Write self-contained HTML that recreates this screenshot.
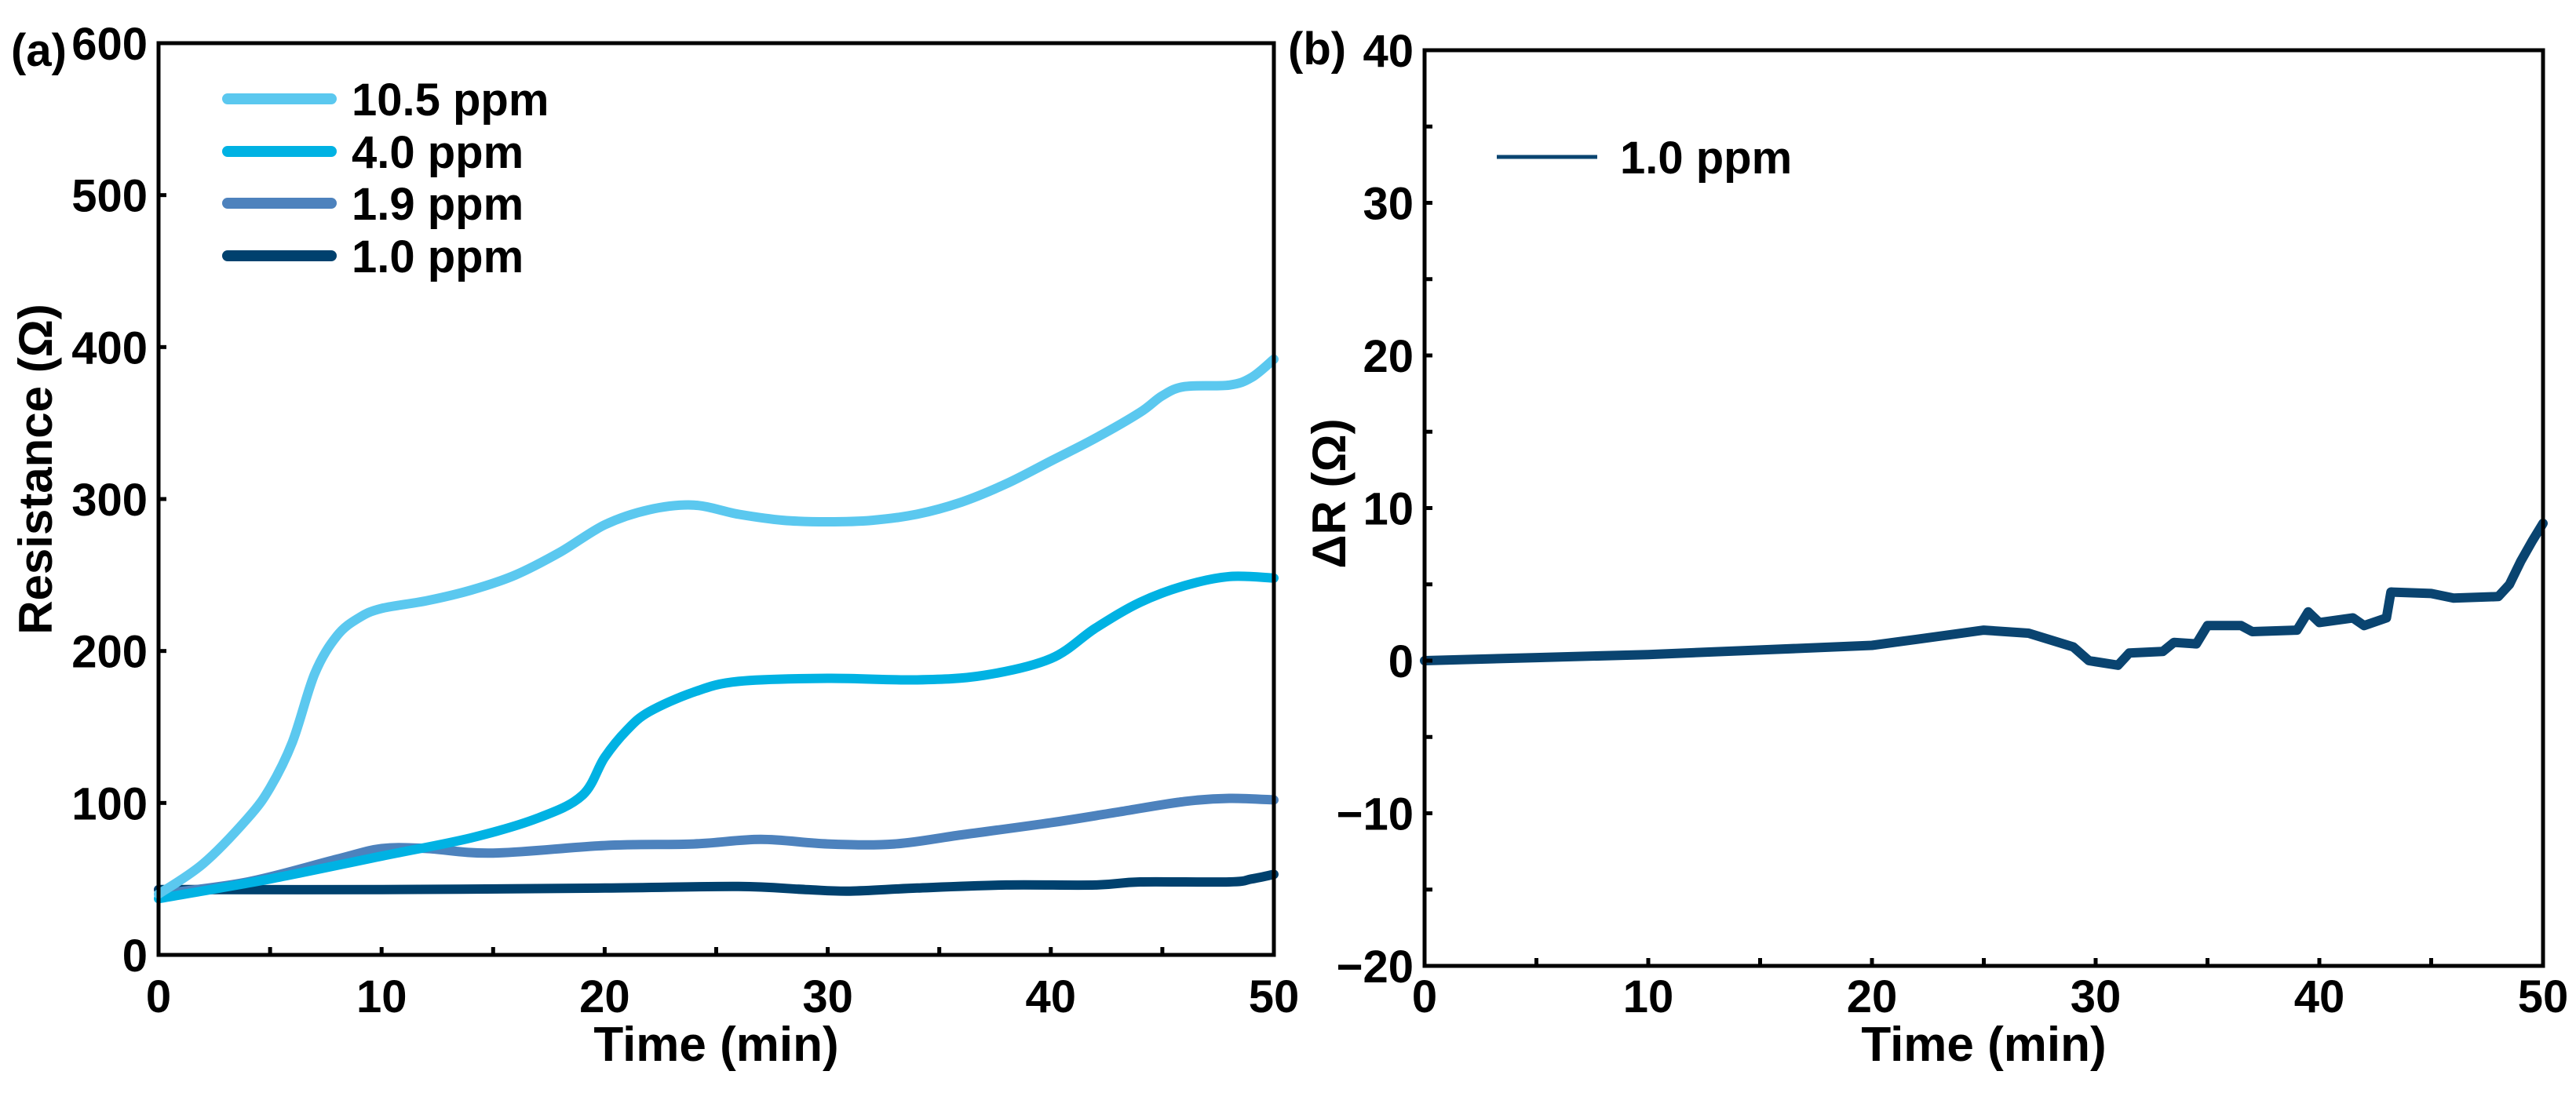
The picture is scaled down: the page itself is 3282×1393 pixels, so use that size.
<!DOCTYPE html>
<html><head><meta charset="utf-8">
<style>
html,body{margin:0;padding:0;background:#fff;}
svg{display:block;font-family:"Liberation Sans",Arial,sans-serif;font-weight:bold;}
</style></head>
<body>
<svg id="chart" width="3282" height="1393" viewBox="0 0 3282 1393" xmlns="http://www.w3.org/2000/svg">
<rect width="3282" height="1393" fill="#fff"/>
<g id="pa"></g>
<g id="pb"></g>
</svg>
<script>
// Panel (a) data
const timeA105 = [0,2,4,5,6,7,8,9,10,12,14,16,18,20,22,24,26,28,30,32,34,36,38,40,42,44,45,46,48,49,50];
const r105 = [40,60,90,110,140,185,210,222,228,233,240,250,265,283,293,296,290,286,285,286,290,298,310,325,340,357,368,374,375,380,392];
const timeA40 = [0,5,10,14,17,19,20,21,22,24,26,30,34,37,40,42,44,46,48,50];
const r40 = [37,50,65,77,90,105,130,148,160,173,180,182,181,184,195,215,232,243,249,248];
const timeA19 = [0,4,8,10,12,15,20,24,27,30,33,36,40,43,46,48,50];
const r19 = [40,48,63,70,70,67,72,73,76,73,73,79,87,94,101,103,102];
const timeA10 = [0,10,20,26,29,31,34,38,42,44,48,49,50];
const r10 = [43,43,44,45,43,42,44,46,46,48,48,50,53];
const yTicksA = [0,100,200,300,400,500,600];
const xTicks = [0,10,20,30,40,50];
const legendA = ["10.5 ppm","4.0 ppm","1.9 ppm","1.0 ppm"];
// Panel (b) data
const timeB = [0,5,10,15,20,22,25,27,29,29.7,31,31.5,33,33.5,34.5,35,36.5,37,39,39.5,40,41.5,42,43,43.2,45,46,48,48.5,49,49.5,50];
const dR = [0,0.2,0.4,0.7,1.0,1.4,2.0,1.8,0.9,0,-0.3,0.5,0.6,1.2,1.1,2.3,2.3,1.9,2.0,3.2,2.5,2.8,2.3,2.8,4.5,4.4,4.1,4.2,5,6.5,7.8,9];
const yTicksB = [-20,-10,0,10,20,30,40];

const NS="http://www.w3.org/2000/svg";
function mk(parent,tag,attrs,text){const e=document.createElementNS(NS,tag);for(const k in attrs)e.setAttribute(k,attrs[k]);if(text!==undefined)e.textContent=text;parent.appendChild(e);return e;}

function axes(g,L,R,T,B,xs,ys,yTicks,minorY,name){
  const fr=mk(g,'rect',{x:L,y:T,width:R-L,height:B-T,fill:'none',stroke:'#000','stroke-width':5});
  
  
  for(let t=0;t<=50;t+=5){
    const tk=mk(g,'line',{x1:xs(t),x2:xs(t),y1:B,y2:B-10,stroke:'#000','stroke-width':5});
    
    
  }
  xTicks.forEach(t=>{
    const l=mk(g,'text',{x:xs(t),y:1290,'font-size':58,'text-anchor':'middle'},String(t));
    
    
  });
  yTicks.forEach(v=>{
    const tk=mk(g,'line',{x1:L,x2:L+10,y1:ys(v),y2:ys(v),stroke:'#000','stroke-width':5});
    
    
    const l=mk(g,'text',{x:L-14,y:ys(v)+21,'font-size':58,'text-anchor':'end'},v<0?'\u2212'+(-v):String(v));
    
    
  });
  minorY.forEach(v=>{
    const tk=mk(g,'line',{x1:L,x2:L+10,y1:ys(v),y2:ys(v),stroke:'#000','stroke-width':5});
    
    
  });
  const xt=mk(g,'text',{x:(L+R)/2,y:1352,'font-size':62,'text-anchor':'middle'},'Time (min)');
  
  
}
function path(g,xsArr,ysArr,xs,ys,color,w,name,smooth){
  const P=xsArr.map((t,i)=>[xs(t),ys(ysArr[i])]);
  let d='M'+P[0][0].toFixed(1)+','+P[0][1].toFixed(1);
  for(let i=1;i<P.length;i++){
    if(smooth){
      const p0=P[Math.max(i-2,0)],p1=P[i-1],p2=P[i],p3=P[Math.min(i+1,P.length-1)];
      const c1=[p1[0]+(p2[0]-p0[0])/6,p1[1]+(p2[1]-p0[1])/6];
      const c2=[p2[0]-(p3[0]-p1[0])/6,p2[1]-(p3[1]-p1[1])/6];
      d+='C'+c1[0].toFixed(1)+','+c1[1].toFixed(1)+' '+c2[0].toFixed(1)+','+c2[1].toFixed(1)+' '+p2[0].toFixed(1)+','+p2[1].toFixed(1);
    } else d+='L'+P[i][0].toFixed(1)+','+P[i][1].toFixed(1);
  }
  const p=mk(g,'path',{d:d,fill:'none',stroke:color,'stroke-width':w,'stroke-linejoin':'round','stroke-linecap':'round'});
  
  
}

// Panel A
(function(){
  const g=document.getElementById('pa');
  const L=202,R=1623,T=55,B=1217;
  const xs=t=>L+(R-L)*t/50, ys=v=>B-(B-T)*v/600;
  const series=[[timeA10,r10,'#00416e','line-1-0-ppm'],[timeA19,r19,'#4d82bd','line-1-9-ppm'],[timeA40,r40,'#00b2e3','line-4-0-ppm'],[timeA105,r105,'#5bc8ef','line-10-5-ppm']];
  series.forEach(s=>path(g,s[0],s[1],xs,ys,s[2],12,s[3],true));
  axes(g,L,R,T,B,xs,ys,yTicksA,[],'panel-a');
  const yt=mk(g,'text',{x:0,y:0,'font-size':60,'text-anchor':'middle',transform:'translate(66,598) rotate(-90)'},'Resistance (\u03A9)');
  
  
  const lab=mk(g,'text',{x:14,y:84,'font-size':58},'(a)');
  
  
  const cols=['#5bc8ef','#00b2e3','#4d82bd','#00416e'];
  const ly=[126,193,259,326];
  legendA.forEach((txt,i)=>{
    const ln=mk(g,'line',{x1:290,x2:422,y1:ly[i],y2:ly[i],stroke:cols[i],'stroke-width':14,'stroke-linecap':'round'});
    
    
    const t=mk(g,'text',{x:448,y:ly[i]+21,'font-size':58},txt);
    
    
  });
})();

// Panel B
(function(){
  const g=document.getElementById('pb');
  const L=1815,R=3240,T=64,B=1231;
  const xs=t=>L+(R-L)*t/50, ys=v=>B-(B-T)*(v+20)/60;
  path(g,timeB,dR,xs,ys,'#0a4470',12,'line-delta-r',false);
  const minor=[-15,-5,5,15,25,35];
  axes(g,L,R,T,B,xs,ys,yTicksB,minor,'panel-b');
  const yt=mk(g,'text',{x:0,y:0,'font-size':60,'text-anchor':'middle',transform:'translate(1714,629) rotate(-90)'},'\u0394R (\u03A9)');
  
  
  const lab=mk(g,'text',{x:1641,y:82,'font-size':58},'(b)');
  
  
  const ln=mk(g,'line',{x1:1907,x2:2035,y1:200,y2:200,stroke:'#0a4470','stroke-width':5});
  
  
  const t=mk(g,'text',{x:2064,y:221,'font-size':58},'1.0 ppm');
  
  
})();
</script>
</body></html>
